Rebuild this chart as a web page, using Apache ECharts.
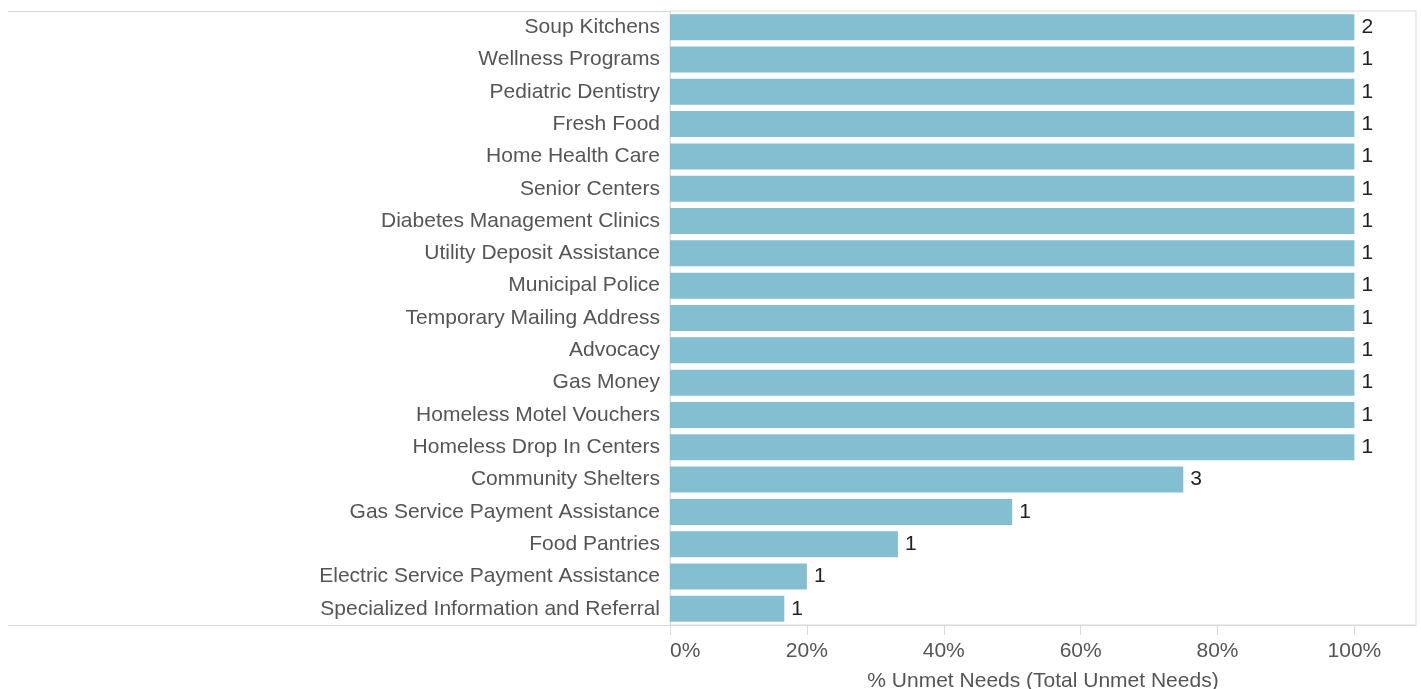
<!DOCTYPE html>
<html>
<head>
<meta charset="utf-8">
<script src="https://cdn.jsdelivr.net/npm/echarts@6/dist/echarts.min.js"></script>
<style>
    html, body { margin: 0; padding: 0; background: #fff; }
    #chart { width: 1421px; height: 689px; }
</style>
</head>
<body>
<div id="chart"></div>
<script>
    // categories, top to bottom
    const categories = [
        'Soup Kitchens', 'Wellness Programs', 'Pediatric Dentistry', 'Fresh Food',
        'Home Health Care', 'Senior Centers', 'Diabetes Management Clinics',
        'Utility Deposit Assistance', 'Municipal Police', 'Temporary Mailing Address',
        'Advocacy', 'Gas Money', 'Homeless Motel Vouchers', 'Homeless Drop In Centers',
        'Community Shelters', 'Gas Service Payment Assistance', 'Food Pantries',
        'Electric Service Payment Assistance', 'Specialized Information and Referral'
    ]
    // % unmet needs (bar length)
    const pctUnmet = [
        1, 1, 1, 1, 1, 1, 1, 1, 1, 1, 1, 1, 1, 1,
        0.75, 0.5, 0.333, 0.2, 0.167
    ]
    // total unmet needs (label)
    const totalUnmet = [
        2, 1, 1, 1, 1, 1, 1, 1, 1, 1, 1, 1, 1, 1,
        3, 1, 1, 1, 1
    ]
    const tickValues = [0, 0.2, 0.4, 0.6, 0.8, 1]

    const font = 'Liberation Sans, Arial, Helvetica, sans-serif'
    const chart = echarts.init(document.getElementById('chart'))

    const option = {
        animation: false,
        grid: {
            left: 670,
            right: 5,
            top: 11,
            bottom: 64,
            outerBoundsMode: 'none',
            containLabel: false,
            show: true,
            borderColor: '#d9d9d9',
            borderWidth: 1
        },
        xAxis: {
            type: 'value',
            min: 0,
            max: 1.09,
            name: '% Unmet Needs (Total Unmet Needs)',
            nameLocation: 'middle',
            nameGap: 46,
            nameTextStyle: { fontFamily: font, fontSize: 21, color: '#555' },
            axisLine: { show: true, lineStyle: { color: '#d9d9d9' } },
            axisTick: {
                show: true,
                length: 10,
                customValues: tickValues,
                lineStyle: { color: '#d9d9d9' }
            },
            axisLabel: {
                customValues: tickValues,
                formatter: v => Math.round(v * 100) + '%',
                alignMinLabel: 'left',
                fontFamily: font,
                fontSize: 21,
                color: '#555',
                margin: 16
            },
            splitLine: { show: false }
        },
        yAxis: {
            type: 'category',
            data: categories,
            inverse: true,
            axisLine: { show: true, lineStyle: { color: '#d9d9d9' } },
            axisTick: { show: false },
            axisLabel: {
                fontFamily: font,
                fontSize: 21,
                color: '#555',
                margin: 10
            }
        },
        graphic: [
            // frame lines extending under the row labels
            { type: 'line', shape: { x1: 8, y1: 11.5, x2: 670, y2: 11.5 }, style: { stroke: '#d9d9d9', lineWidth: 1 } },
            { type: 'line', shape: { x1: 8, y1: 625.5, x2: 670, y2: 625.5 }, style: { stroke: '#d9d9d9', lineWidth: 1 } }
        ],
        series: [{
            type: 'bar',
            data: pctUnmet.map((v, i) => ({ value: v, count: totalUnmet[i] })),
            barWidth: 26,
            itemStyle: { color: '#83bfd0' },
            label: {
                show: true,
                position: 'right',
                distance: 7,
                formatter: p => p.data.count,
                fontFamily: font,
                fontSize: 21,
                color: '#222'
            }
        }]
    }
    chart.setOption(option)
</script>
</body>
</html>
